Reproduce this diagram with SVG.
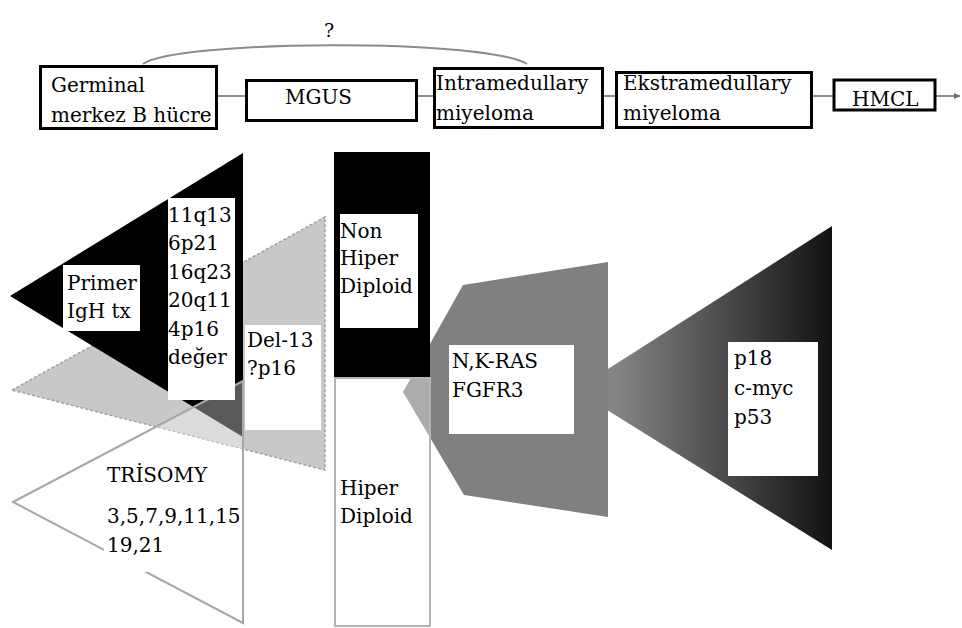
<svg xmlns="http://www.w3.org/2000/svg" width="962" height="628" viewBox="0 0 962 628">
<style>
.t{font-family:"DejaVu Serif","Liberation Serif",serif;font-size:20px;fill:#000}
.box{fill:#fff;stroke:#000;stroke-width:3}
.lbl{fill:#fff}
.conn{fill:none;stroke:#8c8c8c;stroke-width:2}
</style>
<defs>
<linearGradient id="g1" x1="0" y1="0" x2="1" y2="0">
<stop offset="0" stop-color="#8c8c8c"/>
<stop offset="0.15" stop-color="#858585"/>
<stop offset="1" stop-color="#121212"/>
</linearGradient>
<marker id="arr" markerWidth="8" markerHeight="8" refX="6" refY="4" orient="auto" markerUnits="userSpaceOnUse">
<path d="M0,1 L6,4 L0,7 Z" fill="#666"/>
</marker>
</defs>
<rect width="962" height="628" fill="#fff"/>

<g id="connectors">
<line class="conn" x1="217" y1="96" x2="245" y2="96"/>
<line class="conn" x1="417" y1="96" x2="433" y2="96"/>
<line class="conn" x1="603" y1="96" x2="616" y2="96"/>
<line class="conn" x1="812" y1="96" x2="833" y2="96"/>
<line class="conn" x1="936" y1="96" x2="960" y2="96" marker-end="url(#arr)"/>
<path class="conn" d="M143,64 C175,40 485,38 527,64"/>
<text class="t" x="324" y="37" style="font-size:19px">?</text>
</g>

<g id="n-germinal">
<rect class="box" x="40.5" y="66.5" width="176" height="62"/>
<text class="t" x="51" y="92">Germinal</text>
<text class="t" x="51" y="122">merkez B hücre</text>
</g>
<g id="n-mgus">
<rect class="box" x="246.5" y="80.5" width="170" height="40"/>
<text class="t" x="285" y="104">MGUS</text>
</g>
<g id="n-intra">
<rect class="box" x="434.5" y="68.5" width="168" height="59"/>
<text class="t" x="436" y="90">Intramedullary</text>
<text class="t" x="436" y="120">miyeloma</text>
</g>
<g id="n-ekstra">
<rect class="box" x="616.5" y="72.5" width="195" height="55"/>
<text class="t" x="623" y="90">Ekstramedullary</text>
<text class="t" x="623" y="120">miyeloma</text>
</g>
<g id="n-hmcl">
<rect class="box" x="834" y="80" width="101" height="30" stroke-width="4"/>
<text class="t" x="852" y="106">HMCL</text>
</g>

<g id="n-trisomy-shapes">
<polygon points="12,390 325,217 325,470" fill="#c8c8c8" stroke="#a0a0a0" stroke-width="1.5" stroke-dasharray="3,2"/>
<polygon points="10,296 243,153 243,437" fill="#000"/>
<polygon points="13,502 243,381 243,623" fill="#fff" fill-opacity="0.35" stroke="#a8a8a8" stroke-width="2"/>
</g>

<g id="n-primer">
<rect class="lbl" x="63" y="265" width="77" height="66"/>
<text class="t" x="67" y="290">Primer</text>
<text class="t" x="67" y="318">IgH tx</text>
</g>
<g id="n-translocations">
<rect class="lbl" x="168" y="198" width="67" height="202"/>
<text class="t" x="168" y="222">11q13</text>
<text class="t" x="168" y="250">6p21</text>
<text class="t" x="168" y="279">16q23</text>
<text class="t" x="168" y="307">20q11</text>
<text class="t" x="168" y="336">4p16</text>
<text class="t" x="168" y="364">değer</text>
</g>
<g id="n-del13">
<rect class="lbl" x="245" y="325" width="76" height="105"/>
<text class="t" x="247" y="347">Del-13</text>
<text class="t" x="247" y="375">?p16</text>
</g>
<g id="n-trisomy">
<rect class="lbl" x="104" y="455" width="136" height="117"/>
<text class="t" x="107" y="482">TRİSOMY</text>
<text class="t" x="107" y="523">3,5,7,9,11,15</text>
<text class="t" x="107" y="552">19,21</text>
</g>

<g id="n-p18-shape">
<polygon points="575,390 832,226 832,550" fill="url(#g1)"/>
</g>

<g id="n-ras-shape">
<polygon points="403,392 463,285 608,262 608,517 464,495" fill="#808080"/>
</g>

<g id="n-nonhiper">
<rect x="334" y="152" width="96" height="226" fill="#000"/>
<rect class="lbl" x="340" y="214" width="78" height="114"/>
<text class="t" x="340" y="238">Non</text>
<text class="t" x="340" y="265">Hiper</text>
<text class="t" x="340" y="293">Diploid</text>
</g>
<g id="n-hiper">
<rect x="335" y="378" width="95" height="248" fill="#fff" fill-opacity="0.35" stroke="#b4b4b4" stroke-width="2"/>
<text class="t" x="340" y="495">Hiper</text>
<text class="t" x="340" y="523">Diploid</text>
</g>

<g id="n-ras">
<rect class="lbl" x="449" y="345" width="125" height="89"/>
<text class="t" x="452" y="368">N,K-RAS</text>
<text class="t" x="452" y="397">FGFR3</text>
</g>
<g id="n-p18">
<rect class="lbl" x="728" y="342" width="90" height="134"/>
<text class="t" x="734" y="365">p18</text>
<text class="t" x="734" y="395">c-myc</text>
<text class="t" x="734" y="424">p53</text>
</g>
</svg>
